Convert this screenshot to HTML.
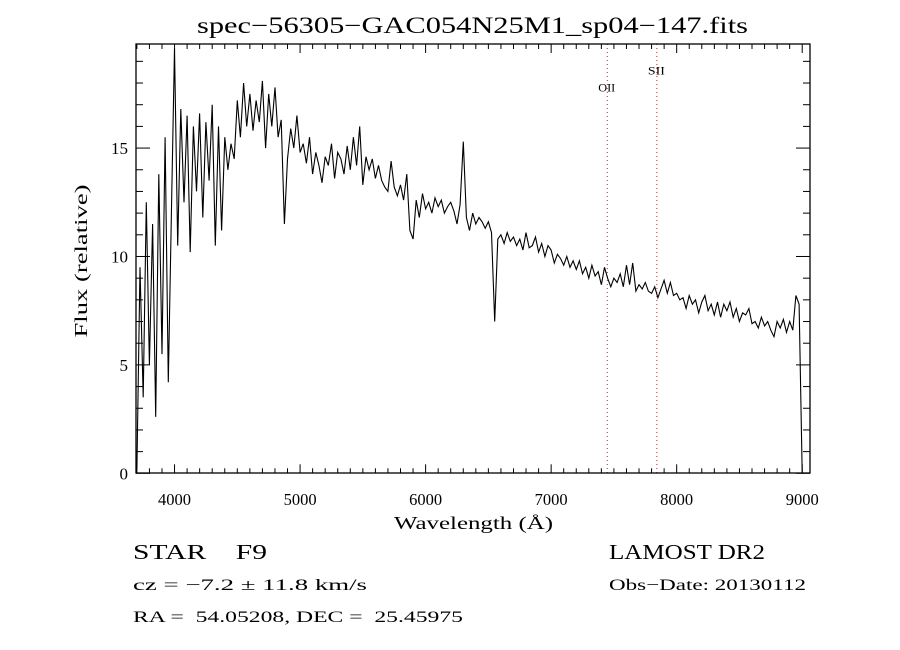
<!DOCTYPE html>
<html><head><meta charset="utf-8"><style>
body{margin:0;background:#fff;}
svg{display:block;}
text{font-family:"Liberation Serif",serif;fill:#000;}
</style></head><body>
<svg id="chart" width="900" height="650" viewBox="0 0 900 650" xmlns="http://www.w3.org/2000/svg">
<rect x="0" y="0" width="900" height="650" fill="#fff"/>
<text x="197" y="33" font-size="23" textLength="551" lengthAdjust="spacingAndGlyphs">spec−56305−GAC054N25M1_sp04−147.fits</text>
<g id="axes"></g>
<g id="lines"></g>
<path id="spec" fill="none" stroke="#000" stroke-width="1.1"/>
<rect x="136" y="44" width="674" height="429" fill="none" stroke="#000" stroke-width="1.3"/>
<text x="394" y="529" font-size="18" textLength="159" lengthAdjust="spacingAndGlyphs">Wavelength (Å)</text>
<text x="0" y="0" font-size="18" text-anchor="middle" textLength="153" lengthAdjust="spacingAndGlyphs" transform="translate(87,261) rotate(-90)">Flux (relative)</text>
<text x="133" y="559" font-size="21" xml:space="preserve" textLength="134" lengthAdjust="spacingAndGlyphs">STAR    F9</text>
<text x="609" y="559" font-size="21" textLength="156" lengthAdjust="spacingAndGlyphs">LAMOST DR2</text>
<text x="133" y="590" font-size="16" textLength="234" lengthAdjust="spacingAndGlyphs">cz = −7.2 ± 11.8 km/s</text>
<text x="609" y="590" font-size="16" textLength="197" lengthAdjust="spacingAndGlyphs">Obs−Date: 20130112</text>
<text x="133" y="622" font-size="16" xml:space="preserve" textLength="330" lengthAdjust="spacingAndGlyphs">RA =  54.05208, DEC =  25.45975</text>
</svg>
<script>
const xTicks=[4000,5000,6000,7000,8000,9000];
const yTicks=[0,5,10,15];
const lineNames=["OII","SII"];
const lineWaves=[7447,7842];
const lineLabelFlux=[17.6,18.4];
const waveStart=3700, waveStep=25;
const flux=[0.2,9.5,3.5,12.5,5.0,11.5,2.6,13.8,5.5,15.5,4.2,12.0,19.6,10.5,16.8,12.5,16.5,10.2,16.0,13.0,
16.6,11.8,16.2,13.5,17.0,10.5,16.0,11.2,15.5,14.0,15.2,14.5,17.2,15.5,18.0,16.0,17.5,15.8,17.2,16.2,
18.1,15.0,17.5,16.0,17.8,15.5,16.3,11.5,14.5,15.9,15.0,16.5,14.8,15.2,14.3,15.5,13.8,14.8,14.2,13.4,
14.6,14.2,15.2,13.6,14.8,14.5,13.8,15.1,14.0,15.5,14.2,16.0,13.3,14.6,14.0,14.5,13.6,14.2,13.5,13.2,
13.0,14.4,13.2,12.8,13.3,12.6,13.8,11.2,10.8,12.6,11.8,12.9,12.2,12.5,12.0,12.7,12.3,12.6,12.0,12.3,
12.5,12.1,11.5,12.4,15.3,11.8,11.2,12.0,11.5,11.8,11.6,11.3,11.6,11.1,7.0,10.8,11.0,10.6,11.1,10.7,
10.9,10.5,10.8,10.3,11.1,10.4,10.5,10.9,10.2,10.6,10.0,10.5,10.3,9.7,10.1,9.9,9.6,10.0,9.5,9.8,
9.4,9.8,9.2,9.5,9.0,9.6,9.1,9.3,8.7,9.5,9.0,8.6,9.0,8.8,9.2,8.6,9.6,8.7,9.7,8.4,
8.7,8.5,8.8,8.4,8.3,8.6,8.1,8.5,8.9,8.3,8.8,8.2,8.3,8.0,8.1,7.6,8.2,7.8,8.0,7.4,
7.9,8.2,7.5,7.8,7.3,7.9,7.2,7.8,7.5,7.9,7.2,7.6,7.0,7.4,7.3,7.6,6.9,7.0,6.7,7.2,
6.8,7.0,6.6,6.3,7.0,6.7,7.1,6.5,7.0,6.6,8.2,7.8,0.0];
const X0=136,X1=810,Y0=473.3,Y1=44;
const wMin=3693,wMax=9062,fMin=0,fMax=19.8;
function sx(w){return X0+(w-wMin)/(wMax-wMin)*(X1-X0);}
function sy(f){return Y0-(f-fMin)/(fMax-fMin)*(Y0-Y1);}
const NS="http://www.w3.org/2000/svg";
const axes=document.getElementById('axes');
function mk(tag,attrs,parent){const e=document.createElementNS(NS,tag);for(const k in attrs)e.setAttribute(k,attrs[k]);parent.appendChild(e);return e;}
for(let w=3700;w<=9000;w+=100){
  const major=(w%1000===0);const L=major?9:5;const x=sx(w);
  const t1=mk('line',{x1:x,x2:x,y1:Y0,y2:Y0-L,stroke:'#000','stroke-width':1},axes);
  
  
  const t2=mk('line',{x1:x,x2:x,y1:Y1,y2:Y1+L,stroke:'#000','stroke-width':1},axes);
  
  
}
xTicks.forEach(w=>{
  const t=mk('text',{x:sx(w),y:505,'font-size':17,'text-anchor':'middle',fill:'#222',textLength:33,lengthAdjust:'spacingAndGlyphs'},axes);
  t.textContent=w;
  
  
});
for(let f=0;f<=19;f+=1){
  const major=(f%5===0);const L=major?14:7;const y=sy(f);
  const t1=mk('line',{x1:X0,x2:X0+L,y1:y,y2:y,stroke:'#000','stroke-width':1},axes);
  
  
  const t2=mk('line',{x1:X1,x2:X1-L,y1:y,y2:y,stroke:'#000','stroke-width':1},axes);
  
  
}
yTicks.forEach(f=>{
  const t=mk('text',{x:128,y:sy(f)+6,'font-size':17,'text-anchor':'end',fill:'#222'},axes);
  t.textContent=f;
  
  
});
const lg=document.getElementById('lines');
lineWaves.forEach((w,i)=>{
  const l=mk('line',{x1:sx(w),x2:sx(w),y1:Y1,y2:Y0,stroke:'#8b3a3a','stroke-width':1,'stroke-dasharray':'1,3'},lg);
  
  
  const t=mk('text',{x:sx(w)-9,y:sy(lineLabelFlux[i]),'font-size':12,textLength:17,lengthAdjust:'spacingAndGlyphs'},lg);
  t.textContent=lineNames[i];
  
  
});
let d='';
flux.forEach((f,i)=>{const w=waveStart+waveStep*i;d+=(i?'L':'M')+sx(w).toFixed(1)+','+sy(f).toFixed(1);});
document.getElementById('spec').setAttribute('d',d);
</script>
</body></html>
